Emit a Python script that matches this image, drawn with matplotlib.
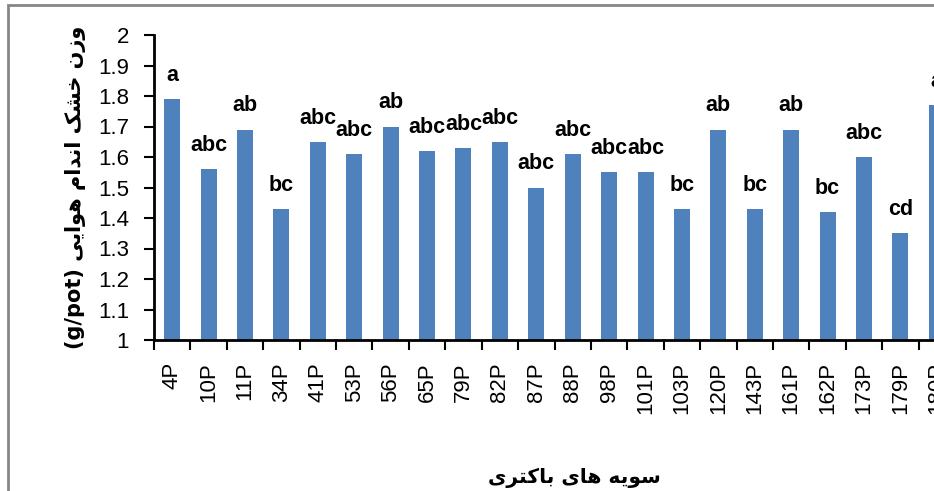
import matplotlib
matplotlib.use("Agg")
import matplotlib.pyplot as plt
from matplotlib.patches import Rectangle

# Données : poids sec des parties aériennes par souche bactérienne
SOUCHES = ["4P", "10P", "11P", "34P", "41P", "53P", "56P", "65P", "79P", "82P",
           "87P", "88P", "98P", "101P", "103P", "120P", "143P", "161P", "162P",
           "173P", "179P", "180P"]
VALEURS = [1.79, 1.56, 1.69, 1.43, 1.65, 1.61, 1.70, 1.62, 1.63, 1.65,
           1.50, 1.61, 1.55, 1.55, 1.43, 1.69, 1.43, 1.69, 1.42,
           1.60, 1.35, 1.77]
LETTRES = ["a", "abc", "ab", "bc", "abc", "abc", "ab", "abc", "abc", "abc",
           "abc", "abc", "abc", "abc", "bc", "ab", "bc", "ab", "bc",
           "abc", "cd", "a"]
Y_TICKS = [1, 1.1, 1.2, 1.3, 1.4, 1.5, 1.6, 1.7, 1.8, 1.9, 2]

TITRE_Y = "وزن خشک اندام هوایی"
UNITE_Y = "(g/pot)"
TITRE_X = "سویه های باکتری"

# Petit "reshaper" persan : matplotlib ne fait ni la liaison des lettres
# ni le sens droite-gauche, on le fait à la main avec les formes de présentation
# lettre -> (isolée, finale, initiale, médiane)
FORMES = {
    "ا": ("\uFE8D", "\uFE8E"),
    "ب": ("\uFE8F", "\uFE90", "\uFE91", "\uFE92"),
    "ت": ("\uFE95", "\uFE96", "\uFE97", "\uFE98"),
    "خ": ("\uFEA5", "\uFEA6", "\uFEA7", "\uFEA8"),
    "د": ("\uFEA9", "\uFEAA"),
    "ر": ("\uFEAD", "\uFEAE"),
    "ز": ("\uFEAF", "\uFEB0"),
    "س": ("\uFEB1", "\uFEB2", "\uFEB3", "\uFEB4"),
    "ش": ("\uFEB5", "\uFEB6", "\uFEB7", "\uFEB8"),
    "م": ("\uFEE1", "\uFEE2", "\uFEE3", "\uFEE4"),
    "ن": ("\uFEE5", "\uFEE6", "\uFEE7", "\uFEE8"),
    "ه": ("\uFEE9", "\uFEEA", "\uFEEB", "\uFEEC"),
    "و": ("\uFEED", "\uFEEE"),
    "ک": ("\uFB8E", "\uFB8F", "\uFB90", "\uFB91"),
    "ی": ("\uFBFC", "\uFBFD", "\uFBFE", "\uFBFF"),
}


def persan(texte):
    sortie = []
    for i, c in enumerate(texte):
        if c not in FORMES:
            sortie.append(c)
            continue
        avant = texte[i - 1] if i > 0 else " "
        apres = texte[i + 1] if i + 1 < len(texte) else " "
        lie_avant = avant in FORMES and len(FORMES[avant]) == 4
        lie_apres = len(FORMES[c]) == 4 and apres in FORMES
        f = FORMES[c]
        if lie_avant and lie_apres:
            sortie.append(f[3])
        elif lie_avant:
            sortie.append(f[1])
        elif lie_apres:
            sortie.append(f[2])
        else:
            sortie.append(f[0])
    return "".join(sortie)[::-1]


plt.rcParams["font.family"] = ["Liberation Sans", "DejaVu Sans"]

fig = plt.figure(figsize=(9.34, 4.91), dpi=100)
ax = fig.add_axes([154 / 934, 151 / 491, 801 / 934, 305 / 491])

x = range(len(SOUCHES))
ax.bar(x, [v - 1 for v in VALEURS], bottom=1, width=0.44, color="#4F81BD")

for i, (v, l) in enumerate(zip(VALEURS, LETTRES)):
    ax.annotate(l, (i, v), xytext=(0, 13), textcoords="offset points",
                ha="center", va="baseline", fontsize=15.5, fontweight="bold")

ax.set_ylim(1, 2)
ax.set_yticks(Y_TICKS)
ax.set_yticklabels([f"{t:g}" for t in Y_TICKS], fontsize=16)
ax.set_xlim(-0.5, len(SOUCHES) - 0.5)
ax.set_xticks(list(x))
ax.set_xticklabels(SOUCHES, rotation=90, fontsize=16)
ax.set_xticks([i - 0.5 for i in range(len(SOUCHES) + 1)], minor=True)
ax.tick_params(axis="x", which="major", length=0, pad=16)
ax.tick_params(axis="x", which="minor", length=7, width=1.5, direction="out")
ax.tick_params(axis="y", length=7, width=1.5, direction="out", pad=11)

for s in ["top", "right"]:
    ax.spines[s].set_visible(False)
for s in ["left", "bottom"]:
    ax.spines[s].set_linewidth(2)

ax.set_ylabel(UNITE_Y + " " + persan(TITRE_Y), fontsize=15, fontweight="bold",
              family=["DejaVu Sans"])
ax.yaxis.set_label_coords(-68 / 801, 0.5)
ax.set_xlabel(persan(TITRE_X), fontsize=14.5, fontweight="bold", family=["DejaVu Sans"])
ax.xaxis.set_label_coords((574 - 154) / 801, -128 / 305)

# Cadre gris du graphique (coupé à droite et en bas)
fig.patches.append(Rectangle((8 / 934, -0.1), 1.2, (486 / 491) + 0.1,
                             transform=fig.transFigure, fill=False,
                             edgecolor="#868686", linewidth=2))

plt.savefig("out.png", dpi=100)
